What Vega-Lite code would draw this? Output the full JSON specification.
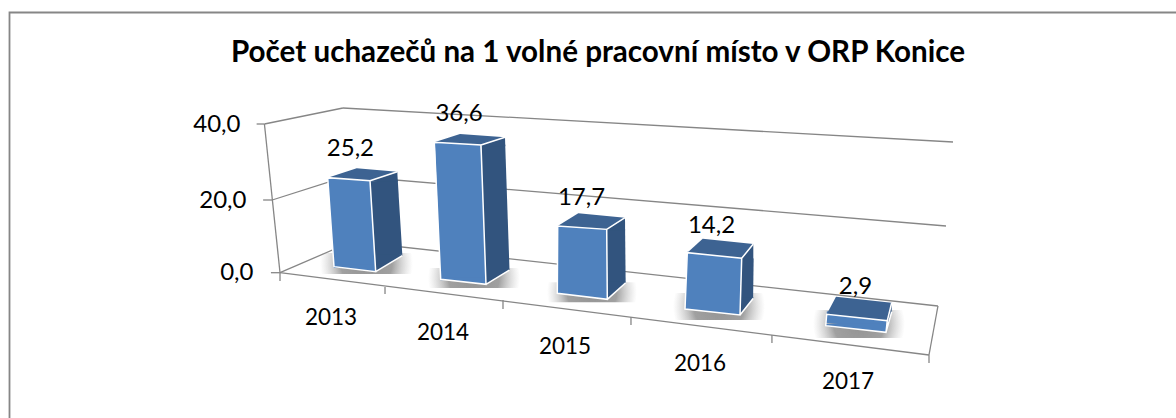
{"$schema":"https://vega.github.io/schema/vega-lite/v6.json","width":1180,"height":420,"autosize":"none","padding":{"left":9.5,"top":12.5,"right":0,"bottom":0},"background":"white",
"config":{"view":{"stroke":"#868686","strokeWidth":1.8},"locale":{"number":{"decimal":",","thousands":" ","grouping":[3],"currency":["","Kč"]}},"text":{"font":"Lato","fontSize":24,"color":"black"}},
"title":{"text":"Počet uchazečů na 1 volné pracovní místo v ORP Konice","font":"Lato","fontSize":29.6,"fontWeight":"bold","color":"black","anchor":"middle","frame":"group","baseline":"middle","offset":0,"dx":-1.5,"dy":70.5},
"datasets":{"bars":[{"year":2013,"value":25.2},{"year":2014,"value":36.6},{"year":2015,"value":17.7},{"year":2016,"value":14.2},{"year":2017,"value":2.9}],
"frame":[{"x":2012.38,"v":40,"x2":2012.5,"v2":0},{"x":2012.38,"v":40,"x2":2012.985,"v2":44.21},{"x":2012.985,"v":44.21,"x2":2017.685,"v2":35.26},{"x":2012.44,"v":20,"x2":2013.024,"v2":26.32},{"x":2013.024,"v":26.32,"x2":2017.631,"v2":12.85},{"x":2012.5,"v":0,"x2":2013.055,"v2":8.58},{"x":2013.055,"v":8.58,"x2":2017.569,"v2":-9.16},{"x":2012.5,"v":0,"x2":2017.5,"v2":-22.64},{"x":2017.569,"v":-9.16,"x2":2017.5,"v2":-22.64},{"x":2012.32,"v":40,"x2":2012.38,"v2":40},{"x":2012.37,"v":20,"x2":2012.44,"v2":20},{"x":2012.43,"v":0,"x2":2012.5,"v2":0},{"x":2012.5,"v":0,"x2":2012.5,"v2":-2.28},{"x":2013.309,"v":-3.93,"x2":2013.309,"v2":-5.86},{"x":2014.218,"v":-7.51,"x2":2014.218,"v2":-9.99},{"x":2015.204,"v":-12.19,"x2":2015.204,"v2":-14.39},{"x":2016.29,"v":-17.14,"x2":2016.29,"v2":-19.34},{"x":2017.5,"v":-22.64,"x2":2017.5,"v2":-24.84}]},
"resolve":{"scale":{"x":"independent","y":"independent"},"axis":{"y":"independent","x":"independent"}},
"layer":[
{"data":{"name":"frame"},"mark":{"type":"rule","stroke":"#868686","strokeWidth":1.3},"encoding":{"x":{"field":"x","type":"quantitative","axis":null,"scale":{"domain":[2012.5,2017.5],"range":[270.5,919.5],"nice":false,"zero":false}},"x2":{"field":"x2"},"y":{"field":"v","type":"quantitative","scale":{"domain":[0,20,40],"range":[260.2,187.5,111.5],"nice":false,"zero":false},"axis":{"title":null,"values":[0,20,40],"format":".1f","orient":"left","offset":-243.5,"domain":false,"ticks":false,"grid":false,"labelPadding":{"expr":"datum.value==40?13:datum.value==20?7:0"},"labelFont":"Lato","labelFontSize":24,"labelColor":"black","labelBaseline":"middle"}},"y2":{"field":"v2"}}},
{"data":{"name":"bars"},"transform":[{"filter":{"field":"year","equal":2013}}],"encoding":{"x":{"field":"year","type":"quantitative","axis":null,"scale":{"domain":[2013,2014,2015,2016,2017],"range":[318.2,424.8,548.2,677.8,817.2],"nice":false,"zero":false}},"y":{"field":"value","type":"quantitative","axis":null,"scale":{"domain":[0,40],"range":[254.2,112.9],"nice":false,"zero":false}}},"layer":[
{"mark":{"type":"point","shape":"M-7.7,-13.7H85.3V7.3H-7.7Z","size":4,"filled":true,"opacity":1,"fill":{"gradient":"radial","stops":[{"offset":0,"color":"rgba(120,120,120,0.8)"},{"offset":0.55,"color":"rgba(120,120,120,0.7)"},{"offset":1,"color":"rgba(170,170,170,0)"}]}},"encoding":{"y":{"datum":0,"axis":null}}},
{"mark":{"type":"rule","stroke":"#32547e","strokeWidth":27.7,"xOffset":56.2,"x2Offset":60.8,"yOffset":3,"y2Offset":-11},"encoding":{"x2":{"field":"year"},"y2":{"datum":0}}},
{"mark":{"type":"point","shape":"M42.3,3L69.6,-6L70.1,4L42.3,4Z","size":4,"filled":true,"opacity":1,"fill":"#32547e"}},
{"mark":{"type":"point","shape":"M47,-12L74.6,-12L74.6,-11L48,5Z","size":4,"filled":true,"opacity":1,"fill":"#32547e"},"encoding":{"y":{"datum":0,"axis":null}}},
{"mark":{"type":"rule","stroke":"#4f81bd","strokeWidth":42,"xOffset":21.15,"x2Offset":27.15},"encoding":{"x2":{"field":"year"},"y2":{"datum":0}}},
{"mark":{"type":"point","shape":"M6.3,0L48,5L48,-2L6.3,-2Z","size":4,"filled":true,"opacity":1,"fill":"#4f81bd"},"encoding":{"y":{"datum":0,"axis":null}}},
{"mark":{"type":"point","shape":"M0,0L42.3,3L69.6,-6L29,-9.4Z","size":4,"filled":true,"opacity":1,"fill":"#3d6392"}},
{"mark":{"type":"point","shape":"M6.3,89L0,0L42.3,3L48,94ZM42.3,3L69.6,-6M48,94L74.6,78","size":4,"filled":false,"opacity":1,"stroke":"white","strokeWidth":1.5}},
{"mark":{"type":"text","dx":22.7,"dy":-28.7,"baseline":"middle","align":"center"},"encoding":{"text":{"field":"value","type":"quantitative","format":".1f"}}},
{"mark":{"type":"text","fontSize":22.5,"dx":3.3,"dy":51.3,"baseline":"middle","align":"center"},"encoding":{"y":{"datum":0,"axis":null},"text":{"field":"year","type":"nominal"}}}
]},
{"data":{"name":"bars"},"transform":[{"filter":{"field":"year","equal":2014}}],"encoding":{"x":{"field":"year","type":"quantitative","axis":null,"scale":{"domain":[2013,2014,2015,2016,2017],"range":[318.2,424.8,548.2,677.8,817.2],"nice":false,"zero":false}},"y":{"field":"value","type":"quantitative","axis":null,"scale":{"domain":[0,40],"range":[266.8,117.1],"nice":false,"zero":false}}},"layer":[
{"mark":{"type":"point","shape":"M-6.3,-11.3H85.7V8.7H-6.3Z","size":4,"filled":true,"opacity":1,"fill":{"gradient":"radial","stops":[{"offset":0,"color":"rgba(120,120,120,0.8)"},{"offset":0.55,"color":"rgba(120,120,120,0.7)"},{"offset":1,"color":"rgba(170,170,170,0)"}]}},"encoding":{"y":{"datum":0,"axis":null}}},
{"mark":{"type":"rule","stroke":"#32547e","strokeWidth":24.2,"xOffset":58.8,"x2Offset":63.1,"yOffset":2.7,"y2Offset":-9.3},"encoding":{"x2":{"field":"year"},"y2":{"datum":0}}},
{"mark":{"type":"point","shape":"M46.7,2.7L70.7,-5L71,4L46.7,4Z","size":4,"filled":true,"opacity":1,"fill":"#32547e"}},
{"mark":{"type":"point","shape":"M51.2,-10.3L75,-10.3L75,-9.3L51.7,5Z","size":4,"filled":true,"opacity":1,"fill":"#32547e"},"encoding":{"y":{"datum":0,"axis":null}}},
{"mark":{"type":"rule","stroke":"#4f81bd","strokeWidth":45.6,"xOffset":23.35,"x2Offset":29.05},"encoding":{"x2":{"field":"year"},"y2":{"datum":0}}},
{"mark":{"type":"point","shape":"M6.4,0L51.7,5L51.7,-2L6.4,-2Z","size":4,"filled":true,"opacity":1,"fill":"#4f81bd"},"encoding":{"y":{"datum":0,"axis":null}}},
{"mark":{"type":"point","shape":"M0,0L46.7,2.7L70.7,-5L25.7,-8.3Z","size":4,"filled":true,"opacity":1,"fill":"#3d6392"}},
{"mark":{"type":"point","shape":"M6.4,137L0,0L46.7,2.7L51.7,142ZM46.7,2.7L70.7,-5M51.7,142L75,127.7","size":4,"filled":false,"opacity":1,"stroke":"white","strokeWidth":1.5}},
{"mark":{"type":"text","dx":24.7,"dy":-28.3,"baseline":"middle","align":"center"},"encoding":{"text":{"field":"value","type":"quantitative","format":".1f"}}},
{"mark":{"type":"text","fontSize":22.5,"dx":8.7,"dy":53.7,"baseline":"middle","align":"center"},"encoding":{"y":{"datum":0,"axis":null},"text":{"field":"year","type":"nominal"}}}
]},
{"data":{"name":"bars"},"transform":[{"filter":{"field":"year","equal":2015}}],"encoding":{"x":{"field":"year","type":"quantitative","axis":null,"scale":{"domain":[2013,2014,2015,2016,2017],"range":[318.2,424.8,548.2,677.8,817.2],"nice":false,"zero":false}},"y":{"field":"value","type":"quantitative","axis":null,"scale":{"domain":[0,40],"range":[280.8,128.8],"nice":false,"zero":false}}},"layer":[
{"mark":{"type":"point","shape":"M-10.7,-11H79.3V9H-10.7Z","size":4,"filled":true,"opacity":1,"fill":{"gradient":"radial","stops":[{"offset":0,"color":"rgba(120,120,120,0.8)"},{"offset":0.55,"color":"rgba(120,120,120,0.7)"},{"offset":1,"color":"rgba(170,170,170,0)"}]}},"encoding":{"y":{"datum":0,"axis":null}}},
{"mark":{"type":"rule","stroke":"#32547e","strokeWidth":18.4,"xOffset":58.2,"x2Offset":58.75,"yOffset":3.3,"y2Offset":-10.6},"encoding":{"x2":{"field":"year"},"y2":{"datum":0}}},
{"mark":{"type":"point","shape":"M49,3.3L67.3,-8.3L67.4,4.3L49,4.3Z","size":4,"filled":true,"opacity":1,"fill":"#32547e"}},
{"mark":{"type":"point","shape":"M49.5,-11.6L68,-11.6L68,-10.6L49.6,6Z","size":4,"filled":true,"opacity":1,"fill":"#32547e"},"encoding":{"y":{"datum":0,"axis":null}}},
{"mark":{"type":"rule","stroke":"#4f81bd","strokeWidth":49.8,"xOffset":24.5,"x2Offset":24.6},"encoding":{"x2":{"field":"year"},"y2":{"datum":0}}},
{"mark":{"type":"point","shape":"M-0.4,0L49.6,6L49.6,-2L-0.4,-2Z","size":4,"filled":true,"opacity":1,"fill":"#4f81bd"},"encoding":{"y":{"datum":0,"axis":null}}},
{"mark":{"type":"point","shape":"M0,0L49,3.3L67.3,-8.3L20.6,-12.7Z","size":4,"filled":true,"opacity":1,"fill":"#3d6392"}},
{"mark":{"type":"point","shape":"M-0.4,67.3L0,0L49,3.3L49.6,73.3ZM49,3.3L67.3,-8.3M49.6,73.3L68,56.7","size":4,"filled":false,"opacity":1,"stroke":"white","strokeWidth":1.5}},
{"mark":{"type":"text","dx":23.8,"dy":-28,"baseline":"middle","align":"center"},"encoding":{"text":{"field":"value","type":"quantitative","format":".1f"}}},
{"mark":{"type":"text","fontSize":22.5,"dx":7.3,"dy":53.7,"baseline":"middle","align":"center"},"encoding":{"y":{"datum":0,"axis":null},"text":{"field":"year","type":"nominal"}}}
]},
{"data":{"name":"bars"},"transform":[{"filter":{"field":"year","equal":2016}}],"encoding":{"x":{"field":"year","type":"quantitative","axis":null,"scale":{"domain":[2013,2014,2015,2016,2017],"range":[318.2,424.8,548.2,677.8,817.2],"nice":false,"zero":false}},"y":{"field":"value","type":"quantitative","axis":null,"scale":{"domain":[0,40],"range":[296.5,137.9],"nice":false,"zero":false}}},"layer":[
{"mark":{"type":"point","shape":"M-14.3,-16H77.7V11H-14.3Z","size":4,"filled":true,"opacity":1,"fill":{"gradient":"radial","stops":[{"offset":0,"color":"rgba(120,120,120,0.8)"},{"offset":0.55,"color":"rgba(120,120,120,0.7)"},{"offset":1,"color":"rgba(170,170,170,0)"}]}},"encoding":{"y":{"datum":0,"axis":null}}},
{"mark":{"type":"rule","stroke":"#32547e","strokeWidth":12.3,"xOffset":60.2,"x2Offset":59.65,"yOffset":5.6,"y2Offset":-10.7},"encoding":{"x2":{"field":"year"},"y2":{"datum":0}}},
{"mark":{"type":"point","shape":"M54.4,5.6L66,-8.7L66,6.6L54.4,6.6Z","size":4,"filled":true,"opacity":1,"fill":"#32547e"}},
{"mark":{"type":"point","shape":"M53.3,-11.7L66,-11.7L66,-10.7L52.7,6Z","size":4,"filled":true,"opacity":1,"fill":"#32547e"},"encoding":{"y":{"datum":0,"axis":null}}},
{"mark":{"type":"rule","stroke":"#4f81bd","strokeWidth":54.7,"xOffset":27.2,"x2Offset":25.2},"encoding":{"x2":{"field":"year"},"y2":{"datum":0}}},
{"mark":{"type":"point","shape":"M-2.3,0L52.7,6L52.7,-2L-2.3,-2Z","size":4,"filled":true,"opacity":1,"fill":"#4f81bd"},"encoding":{"y":{"datum":0,"axis":null}}},
{"mark":{"type":"point","shape":"M0,0L54.4,5.6L66,-8.7L15.4,-14Z","size":4,"filled":true,"opacity":1,"fill":"#3d6392"}},
{"mark":{"type":"point","shape":"M-2.3,56.3L0,0L54.4,5.6L52.7,62.3ZM54.4,5.6L66,-8.7M52.7,62.3L66,45.6","size":4,"filled":false,"opacity":1,"stroke":"white","strokeWidth":1.5}},
{"mark":{"type":"text","dx":24.2,"dy":-26.7,"baseline":"middle","align":"center"},"encoding":{"text":{"field":"value","type":"quantitative","format":".1f"}}},
{"mark":{"type":"text","fontSize":22.5,"dx":12.7,"dy":55,"baseline":"middle","align":"center"},"encoding":{"y":{"datum":0,"axis":null},"text":{"field":"year","type":"nominal"}}}
]},
{"data":{"name":"bars"},"transform":[{"filter":{"field":"year","equal":2017}}],"encoding":{"x":{"field":"year","type":"quantitative","axis":null,"scale":{"domain":[2013,2014,2015,2016,2017],"range":[318.2,424.8,548.2,677.8,817.2],"nice":false,"zero":false}},"y":{"field":"value","type":"quantitative","axis":null,"scale":{"domain":[0,40],"range":[313.2,156],"nice":false,"zero":false}}},"layer":[
{"mark":{"type":"point","shape":"M-13.7,-15.7H78.3V12.3H-13.7Z","size":4,"filled":true,"opacity":1,"fill":{"gradient":"radial","stops":[{"offset":0,"color":"rgba(120,120,120,0.8)"},{"offset":0.55,"color":"rgba(120,120,120,0.7)"},{"offset":1,"color":"rgba(170,170,170,0)"}]}},"encoding":{"y":{"datum":0,"axis":null}}},
{"mark":{"type":"point","shape":"M60.6,6.4L65,-11.6L65,-2.6L59.3,18Z","size":4,"filled":true,"opacity":1,"fill":"#32547e"}},
{"mark":{"type":"rule","stroke":"#4f81bd","strokeWidth":60.4,"xOffset":30.3,"x2Offset":29.15},"encoding":{"x2":{"field":"year"},"y2":{"datum":0}}},
{"mark":{"type":"point","shape":"M-1,0L59.3,6.6L59.3,-2L-1,-2Z","size":4,"filled":true,"opacity":1,"fill":"#4f81bd"},"encoding":{"y":{"datum":0,"axis":null}}},
{"mark":{"type":"point","shape":"M0,0L60.6,6.4L65,-11.6L9.3,-17.6Z","size":4,"filled":true,"opacity":1,"fill":"#3d6392"}},
{"mark":{"type":"point","shape":"M-1,11.4L0,0L60.6,6.4L59.3,18ZM60.6,6.4L65,-11.6M59.3,18L65,-2.6","size":4,"filled":false,"opacity":1,"stroke":"white","strokeWidth":1.5}},
{"mark":{"type":"text","dx":28.8,"dy":-27.3,"baseline":"middle","align":"center"},"encoding":{"text":{"field":"value","type":"quantitative","format":".1f"}}},
{"mark":{"type":"text","fontSize":22.5,"dx":21.3,"dy":56.3,"baseline":"middle","align":"center"},"encoding":{"y":{"datum":0,"axis":null},"text":{"field":"year","type":"nominal"}}}
]}
]}
